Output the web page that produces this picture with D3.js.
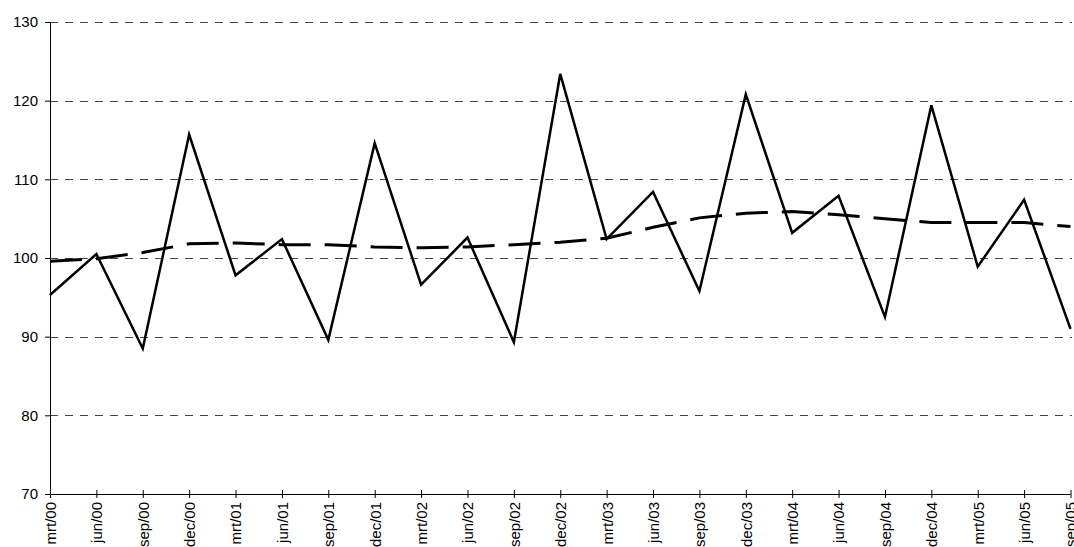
<!DOCTYPE html>
<html>
<head>
<meta charset="utf-8">
<script src="https://cdn.jsdelivr.net/npm/d3@7"></script>
<style>
  html, body { margin: 0; padding: 0; background: #fff; }
  svg { display: block; }
  text { font-family: "Liberation Sans", Arial, sans-serif; }
</style>
</head>
<body>
<svg id="chart" width="1074" height="547"></svg>
<script>
const categories = ["mrt/00","jun/00","sep/00","dec/00","mrt/01","jun/01","sep/01","dec/01",
  "mrt/02","jun/02","sep/02","dec/02","mrt/03","jun/03","sep/03","dec/03",
  "mrt/04","jun/04","sep/04","dec/04","mrt/05","jun/05","sep/05"];
const actualValues = [95.3,100.5,88.5,115.7,97.8,102.4,89.6,114.6,96.6,102.6,89.3,123.4,
  102.4,108.4,95.8,120.8,103.2,107.9,92.5,119.4,98.9,107.4,91.0];
const trendValues = [99.6,99.9,100.7,101.8,101.9,101.7,101.7,101.4,101.3,101.4,101.7,102.0,
  102.5,103.9,105.1,105.7,105.9,105.5,105.0,104.5,104.5,104.5,104.0];
const yTicks = [70,80,90,100,110,120,130];

const svg = d3.select("#chart");
const mLeft = 50, mRight = 1070.5, mTop = 22, mBottom = 494;

const x = d3.scalePoint().domain(categories).range([mLeft, mRight]);
const y = d3.scaleLinear().domain([70,130]).range([mBottom, mTop]);

// gridlines
svg.append("g").selectAll("line").data(yTicks.filter(d => d > 70)).join("line")
  .attr("x1", mLeft).attr("x2", 1072)
  .attr("y1", d => Math.round(y(d)) + 0.5).attr("y2", d => Math.round(y(d)) + 0.5)
  .attr("stroke", "#444").attr("stroke-width", 1)
  .attr("stroke-dasharray", "8,7");

// y axis
const yAxis = svg.append("g").attr("transform", `translate(${mLeft},0)`)
  .call(d3.axisLeft(y).tickValues(yTicks).tickSize(5).tickPadding(7));
yAxis.select(".domain").attr("stroke", "#000");
yAxis.selectAll(".tick line").attr("stroke", "#000");
yAxis.selectAll("text").attr("font-size", 15).attr("fill", "#000")
  .attr("font-family", "Liberation Sans, Arial, sans-serif");

// x axis
const xAxis = svg.append("g").attr("transform", `translate(0,${mBottom})`)
  .call(d3.axisBottom(x).tickSize(0).tickPadding(0));
xAxis.select(".domain").attr("stroke", "#000").attr("d", `M${mLeft},0.5H${mRight}`);
xAxis.selectAll(".tick").append("line")
  .attr("y1", -4).attr("y2", 4).attr("stroke", "#000");
xAxis.selectAll(".tick text")
  .attr("font-size", 15).attr("fill", "#000")
  .attr("font-family", "Liberation Sans, Arial, sans-serif")
  .attr("text-anchor", "end")
  .attr("transform", "rotate(-90)")
  .attr("x", -8).attr("y", 0).attr("dy", "0.36em");

// trend line (dashed)
const line = d3.line().x((d, i) => x(categories[i])).y(d => y(d));
svg.append("path").datum(trendValues)
  .attr("d", line).attr("fill", "none")
  .attr("stroke", "#000").attr("stroke-width", 3)
  .attr("stroke-dasharray", "32,14");

// actual series
svg.append("path").datum(actualValues)
  .attr("d", line).attr("fill", "none")
  .attr("stroke", "#000").attr("stroke-width", 2.5)
  .attr("stroke-linejoin", "miter");
</script>
</body>
</html>
